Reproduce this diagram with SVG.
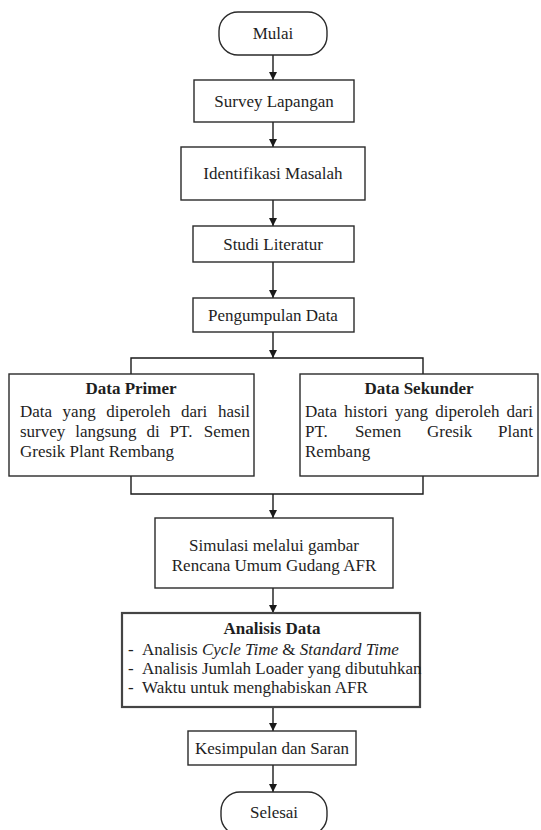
<svg xmlns="http://www.w3.org/2000/svg" width="541" height="830" viewBox="0 0 541 830">
<defs>
<marker id="arr" viewBox="0 0 10 10" refX="10" refY="5" markerWidth="8" markerHeight="8" markerUnits="userSpaceOnUse" orient="auto">
<path d="M0,0 L10,5 L0,10 Z" fill="#1a1a1a"/>
</marker>
<style>
.box{fill:#fff;stroke:#2a2a2a;stroke-width:1.4}
.thick{fill:#fff;stroke:#444;stroke-width:2.2}
.ln{fill:none;stroke:#1a1a1a;stroke-width:1.4}
.c{text-anchor:middle}
.b{font-weight:bold}
.i{font-style:italic}
</style>
</defs>
<rect width="541" height="830" fill="#fff"/>

<g id="connectors">
<line class="ln" x1="273" y1="55" x2="273" y2="80" marker-end="url(#arr)"/>
<line class="ln" x1="273" y1="122" x2="273" y2="147" marker-end="url(#arr)"/>
<line class="ln" x1="273" y1="200" x2="273" y2="226" marker-end="url(#arr)"/>
<line class="ln" x1="273" y1="262" x2="273" y2="298" marker-end="url(#arr)"/>
<line class="ln" x1="273" y1="332" x2="273" y2="358" marker-end="url(#arr)"/>
<polyline class="ln" points="131,374 131,358 423,358 423,374"/>
<polyline class="ln" points="131,476 131,494 423,494 423,476"/>
<line class="ln" x1="273" y1="494" x2="273" y2="518" marker-end="url(#arr)"/>
<line class="ln" x1="273" y1="588" x2="273" y2="613" marker-end="url(#arr)"/>
<line class="ln" x1="273" y1="707" x2="273" y2="731" marker-end="url(#arr)"/>
<line class="ln" x1="273" y1="765" x2="273" y2="792" marker-end="url(#arr)"/>
</g>

<g font-family="Liberation Serif, Times New Roman, serif" font-size="17" fill="#1e1e1e">
<g id="mulai">
<rect class="box" x="219" y="12" width="108" height="43" rx="19" ry="19"/>
<text class="c" x="273" y="39">Mulai</text>
</g>

<g id="survey">
<rect class="box" x="194" y="80" width="160" height="42"/>
<text class="c" x="274" y="107">Survey Lapangan</text>
</g>

<g id="identifikasi">
<rect class="box" x="181" y="147" width="184" height="53"/>
<text class="c" x="273" y="179">Identifikasi Masalah</text>
</g>

<g id="studi">
<rect class="box" x="193" y="226" width="161" height="36"/>
<text class="c" x="273" y="250">Studi Literatur</text>
</g>

<g id="pengumpulan">
<rect class="box" x="193" y="298" width="161" height="34"/>
<text class="c" x="273" y="321">Pengumpulan Data</text>
</g>

<g id="data-primer">
<rect class="box" x="9" y="374" width="245" height="102"/>
<text class="c b" x="131" y="394">Data Primer</text>
<text y="417"><tspan x="20">Data</tspan><tspan x="62.6">yang</tspan><tspan x="106.2">diperoleh</tspan><tspan x="180.9">dari</tspan><tspan x="250" text-anchor="end">hasil</tspan></text>
<text y="437"><tspan x="20">survey</tspan><tspan x="75.2">langsung</tspan><tspan x="146.5">di</tspan><tspan x="169.6">PT.</tspan><tspan x="250" text-anchor="end">Semen</tspan></text>
<text x="20" y="457">Gresik Plant Rembang</text>
</g>

<g id="data-sekunder">
<rect class="box" x="300" y="374" width="238" height="102"/>
<text class="c b" x="419" y="394">Data Sekunder</text>
<text y="417"><tspan x="305">Data</tspan><tspan x="344.3">histori</tspan><tspan x="395">yang</tspan><tspan x="435.3">diperoleh</tspan><tspan x="533" text-anchor="end">dari</tspan></text>
<text y="437"><tspan x="305">PT.</tspan><tspan x="354.9">Semen</tspan><tspan x="427">Gresik</tspan><tspan x="533" text-anchor="end">Plant</tspan></text>
<text x="305" y="457">Rembang</text>
</g>

<g id="simulasi">
<rect class="box" x="155" y="518" width="238" height="70"/>
<text class="c" x="274" y="551">Simulasi melalui gambar</text>
<text class="c" x="274" y="571">Rencana Umum Gudang AFR</text>
</g>

<g id="analisis">
<rect class="thick" x="122" y="613" width="298" height="94"/>
<text class="c b" x="272" y="634">Analisis Data</text>
<text x="128" y="655">-</text>
<text x="142" y="655">Analisis <tspan class="i">Cycle Time</tspan> &amp; <tspan class="i">Standard Time</tspan></text>
<text x="128" y="674">-</text>
<text x="142" y="674">Analisis Jumlah Loader yang dibutuhkan</text>
<text x="128" y="693">-</text>
<text x="142" y="693">Waktu untuk menghabiskan AFR</text>
</g>

<g id="kesimpulan">
<rect class="box" x="188" y="731" width="168" height="34"/>
<text class="c" x="272" y="754">Kesimpulan dan Saran</text>
</g>

<g id="selesai">
<rect class="box" x="221" y="792" width="106" height="43" rx="19" ry="19"/>
<text class="c" x="274" y="818">Selesai</text>
</g>
</g>
</svg>
